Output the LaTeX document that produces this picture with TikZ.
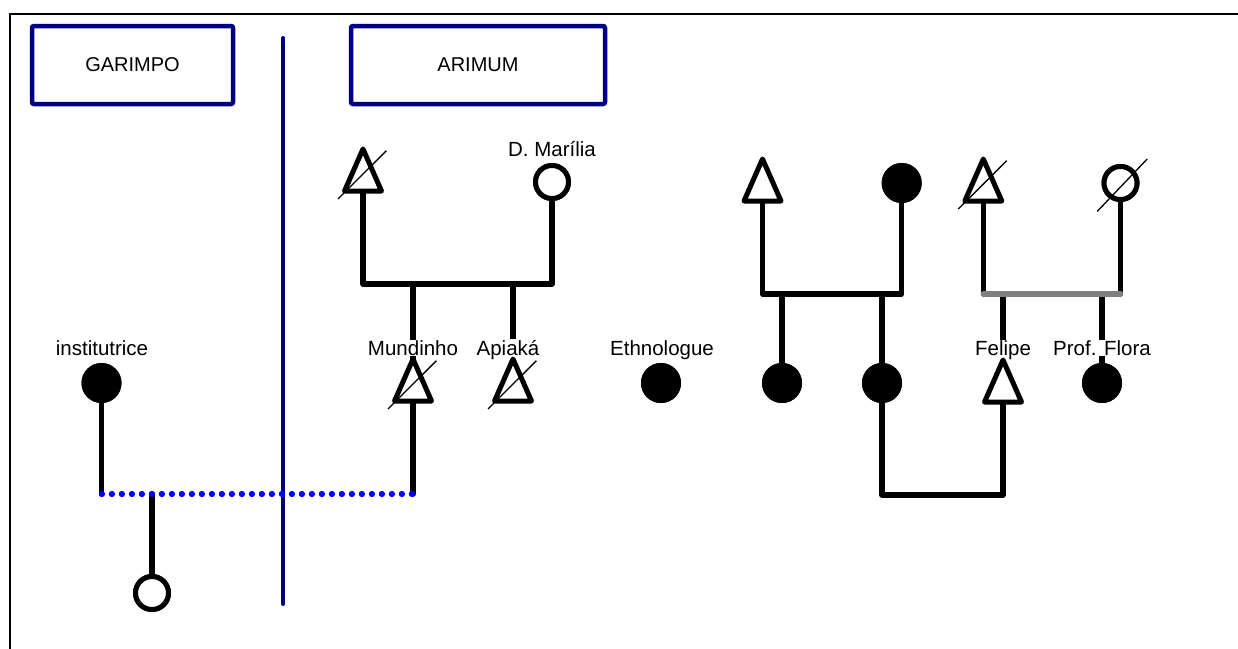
\documentclass[tikz,border=0pt]{standalone}
\usepackage{fontspec}
\setmainfont{Liberation Sans}
\usetikzlibrary{calc}
\definecolor{navy}{RGB}{0,0,128}
\definecolor{dotblue}{RGB}{0,0,255}
\definecolor{bargray}{RGB}{128,128,128}
\tikzset{
  conn/.style={line width=5.5pt, line cap=round, line join=round, black},
  symline/.style={line width=5pt, line join=round, draw=black, fill=white},
  slashline/.style={line width=1.3pt, black},
  openc/.style={circle, draw=black, line width=5pt, fill=white, minimum size=33pt, inner sep=0pt},
  fillc/.style={circle, fill=black, minimum size=40pt, inner sep=0pt},
  lbl/.style={anchor=base, fill=white, inner sep=0.6pt, font=\fontsize{20.5}{24}\selectfont},
  place/.style={draw=navy, line width=4.5pt, rounded corners=2pt, font=\fontsize{20}{24}\selectfont, inner sep=0pt},
  dotted blue/.style={dotblue, line width=5.5pt, line cap=round, dash pattern=on 0.8pt off 9.2pt}
}
\newcommand\symtri[1]{%
  \draw[symline] ($(#1)+(0,-21)$) -- ($(#1)+(18.5,21)$) -- ($(#1)+(-18.5,21)$) -- cycle;}
\newcommand\trislash[1]{\draw[slashline] ($(#1)+(-25,29)$) -- ($(#1)+(23.4,-19.3)$);}
\newcommand\circslash[1]{\draw[slashline] ($(#1)+(-23.3,28.4)$) -- ($(#1)+(26.7,-24)$);}
\begin{document}
\begin{tikzpicture}[x=1pt, y=-1pt]
\useasboundingbox (0,0) rectangle (1238,648);
% frame
\draw[line width=2pt] (10,700) -- (10,14) -- (1260,14);
% places
\node[place, minimum width=201pt, minimum height=78pt] (garimpo) at (132.5,65) {GARIMPO};
\node[place, minimum width=254pt, minimum height=78pt] (arimum) at (478,65) {ARIMUM};
\coordinate (sepT) at (283,38);
\coordinate (sepB) at (283,604);
\draw[navy, line width=4pt, line cap=round] (sepT) -- (sepB);

% bar levels
\coordinate (bar1) at (0,284);
\coordinate (bar2) at (0,294);
\coordinate (bar3) at (0,294);
\coordinate (dotbar) at (0,494);
\coordinate (lowbar) at (0,495);

% symbol positions (triangles: centre, top, bottom)
\coordinate (TA) at (363,170);   \coordinate (TA-b) at (363,191);
\coordinate (TM) at (413,380);   \coordinate (TM-t) at (413,359); \coordinate (TM-b) at (413,401);
\coordinate (TP) at (513,380);   \coordinate (TP-t) at (513,359);
\coordinate (TB) at (762.5,180); \coordinate (TB-b) at (762.5,201);
\coordinate (TS) at (983.3,180); \coordinate (TS-b) at (983.3,201);
\coordinate (TF) at (1003,381);  \coordinate (TF-t) at (1003,360); \coordinate (TF-b) at (1003,402);
\node[openc] (dm) at (552,182) {};
\node[fillc] (inst) at (101.5,383) {};
\node[openc] (child) at (152,593) {};
\node[fillc] (eth) at (661,383) {};
\node[fillc] (F1) at (901.7,183) {};
\node[fillc] (c1) at (782,383) {};
\node[fillc] (c2) at (882,383) {};
\node[openc] (O) at (1120.5,183) {};
\node[fillc] (pf) at (1102,383) {};
\coordinate (childtop) at (152,494);

% connectors
\draw[conn] (TA-b) -- (TA-b |- bar1) -- (dm.south |- bar1) -- (dm.south);
\draw[conn] (TM-t |- bar1) -- (TM-t);
\draw[conn] (TP-t |- bar1) -- (TP-t);
\draw[conn] (inst) -- (inst |- dotbar);
\draw[conn] (TM-b) -- (TM-b |- dotbar);
\draw[conn] (childtop) -- (child.north);
\draw[dotted blue] (inst |- dotbar) -- (TM-b |- dotbar);

\draw[conn] (TB-b) -- (TB-b |- bar2) -- (F1.south |- bar2) -- (F1.south);
\draw[conn] (c1 |- bar2) -- (c1);
\draw[conn] (c2 |- bar2) -- (c2);
\draw[conn] (c2) -- (c2 |- lowbar) -- (TF-b |- lowbar) -- (TF-b);

\draw[conn] (TS-b) -- (TS-b |- bar3);
\draw[conn] (O.south) -- (O.south |- bar3);
\draw[conn] (TF-t |- bar3) -- (TF-t);
\draw[conn] (pf |- bar3) -- (pf);
\draw[bargray, line width=5.5pt, line cap=round] (TS-b |- bar3) -- (O.south |- bar3);

% labels
\node[lbl] (lInst) at (102,355) {institutrice};
\node[lbl] (lMun) at (413,355) {Mundinho};
\node[lbl] (lApi) at (508,355) {Apiaká};
\node[lbl] (lDM) at (552,156.5) {D. Marília};
\node[lbl] (lEth) at (662,355) {Ethnologue};
\node[lbl] (lFe) at (1003,355) {Felipe};
\node[lbl] (lPF) at (1102,355) {Prof. Flora};

% symbols
\symtri{TA}\trislash{TA}
\node[openc] at (dm) {};
\symtri{TM}\trislash{TM}
\symtri{TP}\trislash{TP}
\node[fillc] at (inst) {};
\node[openc] at (child) {};
\node[fillc] at (eth) {};
\symtri{TB}
\node[fillc] at (F1) {};
\node[fillc] at (c1) {};
\node[fillc] at (c2) {};
\symtri{TS}\trislash{TS}
\node[openc] at (O) {};\circslash{O}
\symtri{TF}
\node[fillc] at (pf) {};
\end{tikzpicture}
\end{document}
